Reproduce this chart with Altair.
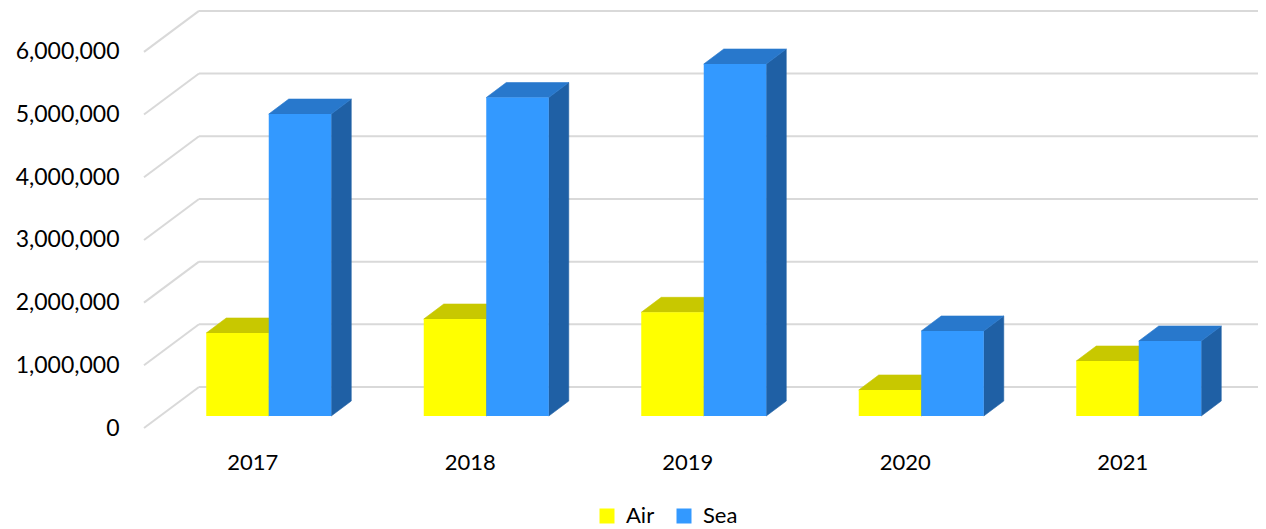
import altair as alt
import pandas as pd

# ---- data ----
years = ["2017", "2018", "2019", "2020", "2021"]
air = [1324000, 1547000, 1654000, 415000, 877000]
sea = [4817000, 5080000, 5615000, 1356000, 1196000]
modes = ["Air", "Sea"]
grid_values = [0, 1000000, 2000000, 3000000, 4000000, 5000000, 6000000]

# ---- style ----
front_colors = ["#FFFF00", "#3399FF"]
top_colors = ["#C8C800", "#2878CC"]
side_colors = ["#A0A000", "#1F60A5"]
GRID = "#D9D9D9"
FONT = "Lato"

W, H = 1114, 420
YMAX = 6.7e6
PX_U = 217.5          # px per category step
PX_V = H / YMAX       # px per unit value


def ux(px):
    return px / PX_U


def uv(px):
    return px / PX_V


BW = ux(62.5)
BAR_DX, BAR_DY = ux(16), uv(12)
DEP_DX, DEP_DY = ux(20), uv(15)
BACK_DX, BACK_DY = ux(55), uv(41)
X0, X1 = -0.5, -0.5 + W / PX_U

xs = alt.Scale(domain=[X0, X1], nice=False, zero=False)
ys = alt.Scale(domain=[0, YMAX], nice=False, zero=False)
yaxis = alt.Axis(values=grid_values, format=",.0f", title="", domain=False,
                 ticks=False, grid=False, labelPadding=25,
                 labelFontSize=23, labelFont=FONT, labelColor="#000000")

# ---- build geometry tables from the value arrays ----
front, tops, sides = [], [], []
series = {"Air": air, "Sea": sea}
for i, yr in enumerate(years):
    for k, m in enumerate(modes):
        v = series[m][i]
        left = i + BAR_DX + (-BW if m == "Air" else 0)
        right = left + BW
        base = BAR_DY
        top = base + v
        bid = f"{yr}-{m}"
        front.append(dict(year=yr, mode=m, x=left, x2=right, y=base, y2=top, order=k))
        tops.append(dict(id=bid, order=k, c=top_colors[k], y=top, x=left, x2=right))
        tops.append(dict(id=bid, order=k, c=top_colors[k], y=top + DEP_DY,
                         x=left + DEP_DX, x2=right + DEP_DX))
        sides.append(dict(id=bid, order=k, c=side_colors[k], x=right, y=top, y2=base))
        sides.append(dict(id=bid, order=k, c=side_colors[k], x=right + DEP_DX,
                          y=top + DEP_DY, y2=base + DEP_DY))

front_df = pd.DataFrame(front)
tops_df = pd.DataFrame(tops)
sides_df = pd.DataFrame(sides)

grid = []
for v in grid_values:
    grid.append(dict(x=X0 + BACK_DX, x2=X1, y=v + BACK_DY, y2=v + BACK_DY))
    grid.append(dict(x=X0, x2=X0 + BACK_DX, y=v, y2=v + BACK_DY))
grid_df = pd.DataFrame(grid)

labels_df = pd.DataFrame(dict(year=years, x=list(range(len(years)))))

# ---- layers ----
grid_layer = alt.Chart(grid_df).mark_rule(color=GRID, strokeWidth=2).encode(
    x=alt.X("x:Q", scale=xs, axis=None),
    x2="x2:Q",
    y=alt.Y("y:Q", scale=ys, axis=yaxis),
    y2="y2:Q",
)


def faces(m):
    sdf = sides_df[sides_df["id"].str.endswith(m)]
    tdf = tops_df[tops_df["id"].str.endswith(m)]
    fdf = front_df[front_df["mode"] == m]
    side = alt.Chart(sdf).mark_area(strokeWidth=0.6).encode(
        x=alt.X("x:Q", scale=xs, axis=None),
        y=alt.Y("y:Q", scale=ys, axis=yaxis),
        y2="y2:Q",
        detail="id:N",
        color=alt.Color("c:N", scale=None),
        stroke=alt.Stroke("c:N", scale=None),
    )
    topf = alt.Chart(tdf).mark_area(orient="horizontal", strokeWidth=0.6).encode(
        y=alt.Y("y:Q", scale=ys, axis=yaxis),
        x=alt.X("x:Q", scale=xs, axis=None),
        x2="x2:Q",
        detail="id:N",
        color=alt.Color("c:N", scale=None),
        stroke=alt.Stroke("c:N", scale=None),
    )
    fr = alt.Chart(fdf).mark_rect(strokeWidth=0).encode(
        x=alt.X("x:Q", scale=xs, axis=None),
        x2="x2:Q",
        y=alt.Y("y:Q", scale=ys, axis=yaxis),
        y2="y2:Q",
        color=alt.Color("mode:N", scale=alt.Scale(domain=modes, range=front_colors),
                        legend=alt.Legend(title=None, orient="none", legendX=452,
                                          legendY=497, direction="horizontal",
                                          symbolType="square", symbolSize=225,
                                          symbolStrokeWidth=0, labelFontSize=22,
                                          labelFont=FONT, labelColor="#000000",
                                          labelOffset=8, columnPadding=18)),
    )
    return [side, topf, fr]


year_layer = alt.Chart(labels_df).mark_text(
    fontSize=22, font=FONT, color="#000000", baseline="middle", align="center"
).encode(
    x=alt.X("x:Q", scale=xs, axis=None),
    y=alt.value(455),
    text="year:N",
)

chart = alt.layer(grid_layer, *faces("Air"), *faces("Sea"), year_layer).properties(
    width=W, height=H,
    autosize=alt.AutoSizeParams(type="none"),
    padding={"left": 136, "top": 0, "right": 0, "bottom": 100},
).configure_view(strokeWidth=0)

chart.save("out.html", embed_options={"renderer": "svg", "actions": False})
